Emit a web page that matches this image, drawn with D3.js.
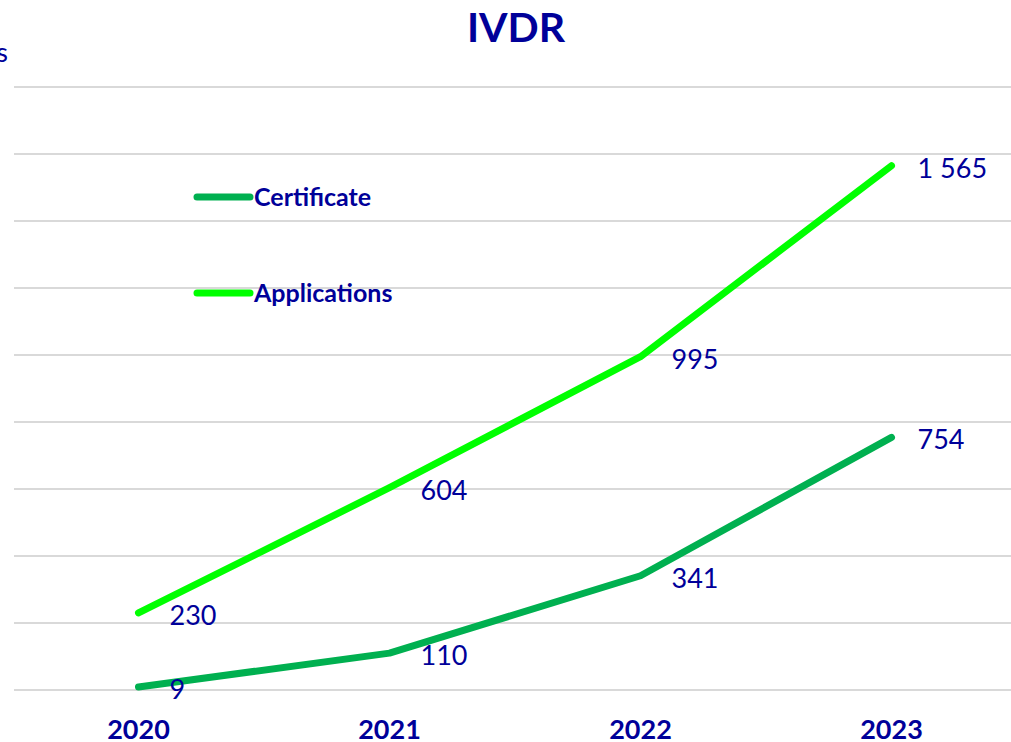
<!DOCTYPE html>
<html>
<head>
<meta charset="utf-8">
<title>IVDR</title>
<script src="https://cdn.jsdelivr.net/npm/d3@7"></script>
<style>
  body { margin: 0; background: #fff; }
  svg text { font-family: Lato, "Noto Sans", sans-serif; fill: #000099; }
</style>
</head>
<body>
<div id="chart"></div>
<script>
// data
var years = ["2020", "2021", "2022", "2023"];
var certificates = [9, 110, 341, 754];
var applications = [230, 604, 995, 1565];
var seriesNames = ["Certificate", "Applications"];
var colors = ["#00b050", "#00ff00"];
var labelText = ["9", "110", "341", "754", "230", "604", "995", "1 565"];

var width = 1011, height = 742;
var svg = d3.select("#chart").append("svg").attr("width", width).attr("height", height);

var x = d3.scaleBand().domain(years).range([13, 1017]);
var y = d3.scaleLinear().domain([0, 1800]).range([690, 87]);

// gridlines
svg.selectAll(".grid").data(y.ticks(9)).enter().append("line")
  .attr("x1", 14).attr("x2", width)
  .attr("y1", function (d) { return y(d); }).attr("y2", function (d) { return y(d); })
  .style("stroke", "#d9d9d9").style("stroke-width", 2);

// title and cut-off axis title
svg.append("text").text("IVDR").attr("x", 516).attr("y", 42)
  .style("text-anchor", "middle").style("font-size", "41px").style("font-weight", "bold");
svg.append("text").text("Numbers").attr("x", 8).attr("y", 62)
  .style("text-anchor", "end").style("font-size", "27px");

// x labels
svg.selectAll(".xl").data(years).enter().append("text")
  .text(function (d) { return d; })
  .attr("x", function (d) { return x(d) + x.bandwidth() / 2; }).attr("y", 739)
  .style("text-anchor", "middle").style("font-size", "27px").style("font-weight", "bold");

var line = d3.line()
  .x(function (d, i) { return x(years[i]) + x.bandwidth() / 2; })
  .y(function (d) { return y(d); });

var series = [certificates, applications];
series.forEach(function (s, k) {
  svg.append("path").datum(s).attr("d", line)
    .style("fill", "none").style("stroke", colors[k]).style("stroke-width", 7)
    .style("stroke-linecap", "round").style("stroke-linejoin", "round");
  svg.selectAll(".lab" + k).data(s).enter().append("text")
    .text(function (d, i) { return labelText[k * 4 + i]; })
    .attr("x", function (d, i) { return x(years[i]) + x.bandwidth() / 2 + (i == 3 ? 26 : 31); })
    .attr("y", function (d) { return y(d) + 12; })
    .style("font-size", "27px");
});

// legend
seriesNames.forEach(function (n, k) {
  var ly = 197 + k * 96;
  svg.append("line").attr("x1", 197).attr("x2", 250).attr("y1", ly).attr("y2", ly)
    .style("stroke", colors[k]).style("stroke-width", 7).style("stroke-linecap", "round");
  svg.append("text").text(n).attr("x", 254).attr("y", ly + 9)
    .style("font-size", "25px").style("font-weight", "bold");
});
</script>
</body>
</html>
